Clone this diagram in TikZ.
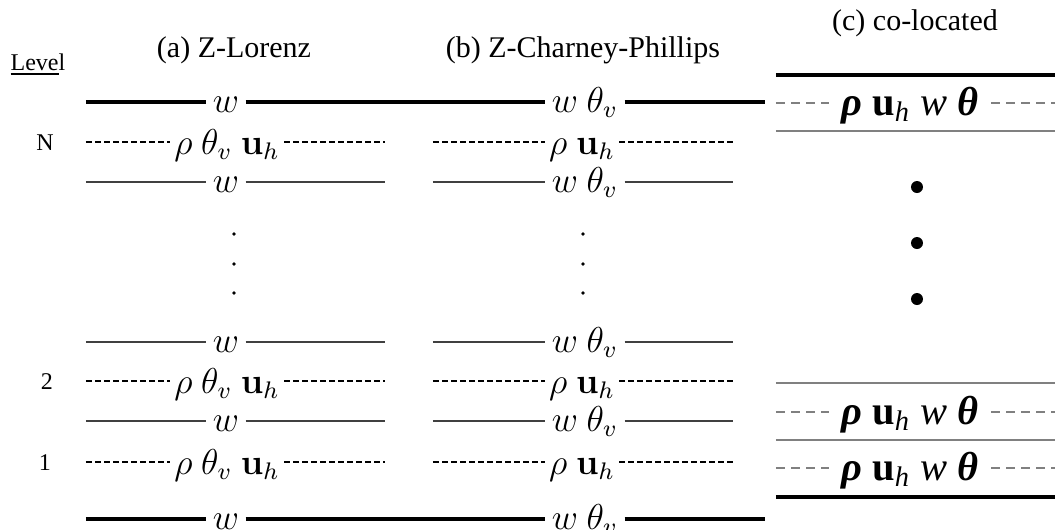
\documentclass[tikz,border=0pt]{standalone}
\usepackage[no-math]{fontspec}
\setmainfont{Liberation Serif}
\usepackage{amsmath}
\usepackage{tikz}
\usetikzlibrary{calc}
\usetikzlibrary{positioning}

\newcommand{\cvars}{\textbf{\textit{ρ}} \textbf{u}\textsubscript{\textit{h}} \textit{w} \textbf{\textit{θ}}}

\begin{document}
\begin{tikzpicture}[x=0.3333pt, y=-0.3333pt,
		thickline/.style={line width=1.6pt},
		thinline/.style={line width=0.6pt, black!75},
		dashline/.style={line width=0.45pt, dash pattern=on 2pt off 1pt},
		cline/.style={line width=0.6pt, black!50},
		cdash/.style={line width=0.45pt, black!50, dash pattern=on 3pt off 2pt},
		lbl/.style={inner sep=2pt, text height=9pt, text depth=2pt, font=\fontsize{11.5}{13}\selectfont},
		dlbl/.style={lbl, inner sep=1.3pt, text height=9.5pt, text depth=1.5pt},
		clbl/.style={inner sep=4pt, text height=10pt, text depth=1.8pt, font=\fontsize{13.5}{16}\selectfont},
		title/.style={inner sep=0pt, font=\fontsize{10}{12}\selectfont},
		level/.style={inner sep=0pt, font=\fontsize{8}{10}\selectfont}]
		\useasboundingbox (0,0) rectangle (1055,530);
		
		% column edges
		\coordinate (aL) at (86,0);
		\coordinate (aR) at (385,0);
		\coordinate (bL) at (433,0);
		\coordinate (bR) at (733,0);
		\coordinate (abR) at (765,0);
		\coordinate (cL) at (776,0);
		\coordinate (cR) at (1055,0);
		
		% titles
		\node[title] (titleA) at (234,50) {(a) Z-Lorenz};
		\node[title] (titleB) at (583,50) {(b) Z-Charney-Phillips};
		\node[title] (titleC) at (915,23) {(c) co-located};
		\node[level, anchor=base west] (level) at (10,70) {\underline{Leve}l};
		\node[level, anchor=base] (levelN) at (45,150) {N};
		\node[level, anchor=base] (level2) at (47,389) {2};
		\node[level, anchor=base] (level1) at (45,470) {1};
		
		% (a) Z-Lorenz
		\node[lbl] (aTop) at (226,102) {$w$};
		\node[dlbl] (aN) at (227,142) {$\rho\ \theta_v\ \mathbf{u}_h$};
		\node[lbl] (aNw) at (226,182) {$w$};
		\node[lbl] (aMw) at (226,342) {$w$};
		\node[dlbl] (a2) at (227,381) {$\rho\ \theta_v\ \mathbf{u}_h$};
		\node[lbl] (a2w) at (226,421) {$w$};
		\node[dlbl] (a1) at (227,462) {$\rho\ \theta_v\ \mathbf{u}_h$};
		\node[lbl] (aBot) at (226,519) {$w$};
		
		% (b) Z-Charney-Phillips
		\node[lbl] (bTop) at (585,102) {$w\ \theta_v$};
		\node[dlbl] (bN) at (582,142) {$\rho\ \mathbf{u}_h$};
		\node[lbl] (bNw) at (585,182) {$w\ \theta_v$};
		\node[lbl] (bMw) at (585,342) {$w\ \theta_v$};
		\node[dlbl] (b2) at (582,381) {$\rho\ \mathbf{u}_h$};
		\node[lbl] (b2w) at (585,421) {$w\ \theta_v$};
		\node[dlbl] (b1) at (582,462) {$\rho\ \mathbf{u}_h$};
		\node[lbl] (bBot) at (585,519) {$w\ \theta_v$};
		
		% top and bottom boundaries
		\draw[thickline] (aL |- aTop) -- (aTop.west) (aTop.east) -- (bTop.west) (bTop.east) -- (abR |- bTop);
		\draw[thickline] (aL |- aBot) -- (aBot.west) (aBot.east) -- (bBot.west) (bBot.east) -- (abR |- bBot);
		
		% dashed levels
		\draw[dashline] (aL |- aN) -- (aN.west) (aN.east) -- (aR |- aN);
		\draw[dashline] (aL |- a2) -- (a2.west) (a2.east) -- (aR |- a2);
		\draw[dashline] (aL |- a1) -- (a1.west) (a1.east) -- (aR |- a1);
		\draw[dashline] (bL |- bN) -- (bN.west) (bN.east) -- (bR |- bN);
		\draw[dashline] (bL |- b2) -- (b2.west) (b2.east) -- (bR |- b2);
		\draw[dashline] (bL |- b1) -- (b1.west) (b1.east) -- (bR |- b1);
		
		% interfaces
		\draw[thinline] (aL |- aNw) -- (aNw.west) (aNw.east) -- (aR |- aNw);
		\draw[thinline] (aL |- aMw) -- (aMw.west) (aMw.east) -- (aR |- aMw);
		\draw[thinline] (aL |- a2w) -- (a2w.west) (a2w.east) -- (aR |- a2w);
		\draw[thinline] (bL |- bNw) -- (bNw.west) (bNw.east) -- (bR |- bNw);
		\draw[thinline] (bL |- bMw) -- (bMw.west) (bMw.east) -- (bR |- bMw);
		\draw[thinline] (bL |- b2w) -- (b2w.west) (b2w.east) -- (bR |- b2w);
		
		% vertical dots
		\fill (234,234) circle (0.6pt) (234,264) circle (0.6pt) (234,293) circle (0.6pt);
		\fill (583,234) circle (0.6pt) (583,264) circle (0.6pt) (583,293) circle (0.6pt);
		
		% (c) co-located
		\node[clbl] (cN) at (910,103) {\cvars};
		\node[clbl] (c2) at (910,412) {\cvars};
		\node[clbl] (c1) at (910,468) {\cvars};
		\draw[line width=1.4pt] (cL |- 0,75) -- (cR |- 0,75);
		\draw[cdash] (cL |- cN) -- (cN.west) (cN.east) -- (cR |- cN);
		\draw[cline] (cL |- 0,131) -- (cR |- 0,131);
		\fill (917,187) circle (2pt) (917,243) circle (2pt) (917,299) circle (2pt);
		\draw[cline] (cL |- 0,383) -- (cR |- 0,383);
		\draw[cdash] (cL |- c2) -- (c2.west) (c2.east) -- (cR |- c2);
		\draw[cline] (cL |- 0,440) -- (cR |- 0,440);
		\draw[cdash] (cL |- c1) -- (c1.west) (c1.east) -- (cR |- c1);
		\draw[line width=1.4pt] (cL |- 0,497) -- (cR |- 0,497);
		
	\end{tikzpicture}
\end{document}
